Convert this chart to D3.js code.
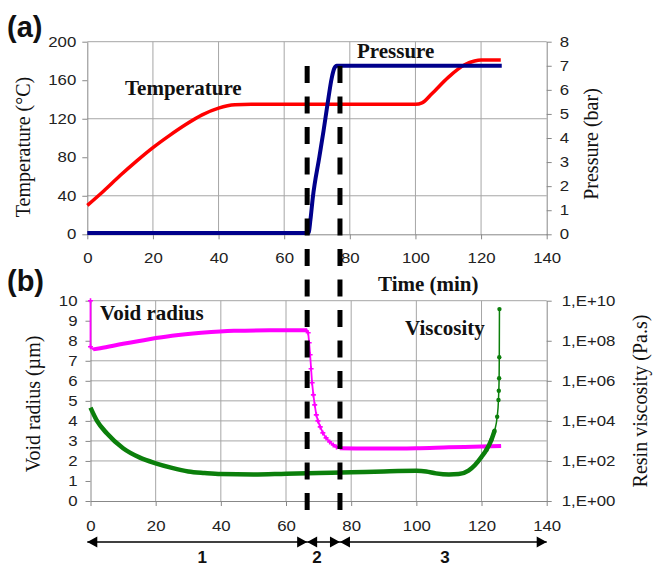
<!DOCTYPE html>
<html>
<head>
<meta charset="utf-8">
<title>cure cycle</title>
<style>
  body{margin:0;background:#fff;}
  svg{display:block;}
  .tick text{font-family:"Liberation Sans",Arial,sans-serif;font-size:14px;fill:#222;}
  .ttl{font-family:"Liberation Serif","Times New Roman",serif;font-size:20px;fill:#111;}
  .lbl{font-family:"Liberation Serif","Times New Roman",serif;font-size:21px;font-weight:bold;fill:#111;}
  .tag{font-family:"Liberation Sans",Arial,sans-serif;font-weight:bold;fill:#111;}
</style>
</head>
<body>
<script src="https://cdn.jsdelivr.net/npm/d3@7"></script>
<script>
// (a) temperature (°C) and pressure (bar) against time (min)
var temperature = [[0,30],[5,45],[10,61],[15,76],[20,90],[25,102.5],[30,114],[35,124],[40,131],[45,134.5],
  [50,135],[100,135],[102,136.5],[105,146],[110,163],[115,176],[118,180],[120,181],[126,181]];
var pressure = [[0,0.05],[67.4,0.05],[68,0.6],[68.7,1.5],[70.7,3.2],[72,4.3],[73.2,5.4],[74.5,6.5],
  [75.3,6.9],[76,7],[126.3,7]];

// (b) void radius (µm) and resin viscosity (Pa.s)
var voidRadius = [[0,10],[0,7.7],[0.8,7.57],[3,7.63],[10,7.85],[18,8.08],[25,8.25],[34,8.4],[44,8.5],
  [55,8.52],[66.5,8.52],[66.8,8.4],[67.1,7.9],[67.4,7.3],[67.7,6.6],[68,5.9],[68.4,5.3],[68.8,4.8],
  [69.3,4.3],[69.8,4],[70.5,3.7],[71.3,3.4],[72.3,3.15],[73.4,2.95],[74.5,2.8],[75.5,2.7],[76.5,2.63],
  [85,2.62],[95,2.62],[100,2.63],[110,2.68],[120,2.72],[126,2.75]];
var viscosity = [[0,4.6e4],[2,1e4],[5,2.4e3],[10,430],[15,150],[20,76],[25,45],[30,30],[35,25],[40,22],
  [50,21],[60,23],[70,25],[80,27],[90,30],[100,32],[103,30],[106,24],[110,21],[113,22],[116,33],
  [118,63],[120,160],[121.5,355],[123,1.1e3],[124,3.2e3],[124.8,1.6e4],[125.2,1.1e5],[125.3,3.2e5],
  [125.4,1.35e6],[125.45,1.5e7],[125.5,3.8e9]];

var timeTicks = [0,20,40,60,80,100,120,140];
var tempTicks = [0,40,80,120,160,200];
var tempGrid = [40,120,200];
var pressTicks = [0,1,2,3,4,5,6,7,8];
var radiusTicks = [0,1,2,3,4,5,6,7,8,9,10];
var radiusGrid = [2,3,4,5,6,7,10];
var viscTicks = [1e0,1e2,1e4,1e6,1e8,1e10];
var phaseBounds = [0,67,77,140];
var phaseNames = ['1','2','3'];
var phaseLabelAt = [35,70,109];

var svg = d3.select('body').append('svg').attr('width',654).attr('height',566);

// scales
var xTop = d3.scaleLinear().domain([0,140]).range([87.3,546.7]);
var yTemp = d3.scaleLinear().domain([0,200]).range([234.3,41.7]);
var yPress = d3.scaleLinear().domain([0,8]).range([234.3,41.7]);
var xBot = d3.scaleLinear().domain([0,140]).range([90.5,546.7]);
var yRad = d3.scaleLinear().domain([0,10]).range([501,300.7]);
var yVisc = d3.scaleLog().domain([1,1e10]).range([501,300.7]);

function styleAxis(g){
  g.select('.domain').attr('stroke','#888');
  g.selectAll('.tick line').attr('stroke','#888');
  // the original's digits are drawn wide
  g.selectAll('.tick text').each(function(){
    var t = d3.select(this), x = +t.attr('x') || 0;
    t.attr('x',0).attr('transform','translate('+x+',0) scale(1.2,1)');
  });
}

// grid
var grid = svg.append('g').attr('stroke','#a6a6a6').attr('stroke-width',1);
grid.selectAll('.gt').data(tempGrid).enter().append('line')
  .attr('x1',xTop(0)).attr('x2',xTop(140)).attr('y1',d=>yTemp(d)).attr('y2',d=>yTemp(d));
grid.selectAll('.vt').data(timeTicks.slice(1,-1)).enter().append('line')
  .attr('x1',d=>xTop(d)).attr('x2',d=>xTop(d)).attr('y1',yTemp(0)).attr('y2',yTemp(200));
grid.selectAll('.gb').data(radiusGrid).enter().append('line')
  .attr('x1',xBot(0)).attr('x2',xBot(140)).attr('y1',d=>yRad(d)).attr('y2',d=>yRad(d));
grid.selectAll('.vb').data(timeTicks.slice(1,-1)).enter().append('line')
  .attr('x1',d=>xBot(d)).attr('x2',d=>xBot(d)).attr('y1',yRad(0)).attr('y2',yRad(10));

// axes (a)
svg.append('g').attr('transform','translate(0,'+yTemp(0)+')')
  .call(d3.axisBottom(xTop).tickValues(timeTicks).tickSize(5).tickSizeOuter(0).tickPadding(14)).call(styleAxis);
svg.append('g').attr('transform','translate('+xTop(0)+',0)')
  .call(d3.axisLeft(yTemp).tickValues(tempTicks).tickSize(5).tickSizeOuter(0).tickPadding(6)).call(styleAxis);
svg.append('g').attr('transform','translate('+xTop(140)+',0)')
  .call(d3.axisRight(yPress).tickValues(pressTicks).tickSize(5).tickSizeOuter(0).tickPadding(8)).call(styleAxis);

// axes (b)
svg.append('g').attr('transform','translate(0,'+yRad(0)+')')
  .call(d3.axisBottom(xBot).tickValues(timeTicks).tickSize(5).tickSizeOuter(0).tickPadding(15)).call(styleAxis);
svg.append('g').attr('transform','translate('+xBot(0)+',0)')
  .call(d3.axisLeft(yRad).tickValues(radiusTicks).tickSize(5).tickSizeOuter(0).tickPadding(8)).call(styleAxis);
svg.append('g').attr('transform','translate('+xBot(140)+',0)')
  .call(d3.axisRight(yVisc).tickValues(viscTicks).tickSize(5).tickSizeOuter(0).tickPadding(10)
    .tickFormat(d=>'1,E+'+d3.format('02d')(Math.round(Math.log10(d))))).call(styleAxis);

// curves (a)
var lineT = d3.line().x(d=>xTop(d[0])).y(d=>yTemp(d[1])).curve(d3.curveMonotoneX);
var lineP = d3.line().x(d=>xTop(d[0])).y(d=>yPress(d[1])).curve(d3.curveMonotoneX);
svg.append('path').datum(temperature).attr('d',lineT).attr('fill','none')
  .attr('stroke','#ff0000').attr('stroke-width',3.5);
svg.append('path').datum(pressure).attr('d',lineP).attr('fill','none')
  .attr('stroke','#00008b').attr('stroke-width',4);

// curves (b)
var lineR = d3.line().x(d=>xBot(d[0])).y(d=>yRad(d[1]));
var lineV = d3.line().x(d=>xBot(d[0])).y(d=>yVisc(d[1])).curve(d3.curveMonotoneX);
svg.append('path').datum(voidRadius).attr('d',lineR).attr('fill','none')
  .attr('stroke','#ff00ff').attr('stroke-width',1.8);
svg.append('path').datum(voidRadius.filter(d=>d[0]>0 && d[0]<=66.5)).attr('d',lineR.curve(d3.curveMonotoneX))
  .attr('fill','none').attr('stroke','#ff00ff').attr('stroke-width',4);
svg.append('path').datum(voidRadius.filter(d=>d[0]>=76.5)).attr('d',lineR)
  .attr('fill','none').attr('stroke','#ff00ff').attr('stroke-width',4);
svg.selectAll('.rm').data(voidRadius.filter(d=>(d[0]>66.5 && d[0]<76.5) || d[0]===0)).enter().append('path')
  .attr('transform',d=>'translate('+xBot(d[0])+','+yRad(d[1])+')')
  .attr('d','M-2.5,0H2.5M0,-2.5V2.5').attr('stroke','#ff00ff').attr('stroke-width',1.6);

svg.append('path').datum(viscosity.filter(d=>d[0]<=124)).attr('d',lineV).attr('fill','none')
  .attr('stroke','#0b7f0b').attr('stroke-width',4.5);
svg.append('path').datum(viscosity.filter(d=>d[0]>=121.5)).attr('d',lineV).attr('fill','none')
  .attr('stroke','#0b7f0b').attr('stroke-width',1.5);
svg.selectAll('.vm').data(viscosity.filter(d=>d[0]>=121.5)).enter().append('circle')
  .attr('cx',d=>xBot(d[0])).attr('cy',d=>yVisc(d[1])).attr('r',2.2).attr('fill','#0b7f0b');

// phase boundaries
svg.selectAll('.dash').data(phaseBounds.slice(1,3)).enter().append('line')
  .attr('x1',d=>xTop(d)).attr('x2',d=>xTop(d)).attr('y1',66).attr('y2',518)
  .attr('stroke','#000').attr('stroke-width',5).attr('stroke-dasharray','17,13.5');

// phase arrows
var ay = 542;
var phases = d3.range(3).map(i=>({a:phaseBounds[i],b:phaseBounds[i+1],name:phaseNames[i],at:phaseLabelAt[i]}));
var pg = svg.selectAll('.ph').data(phases).enter().append('g');
pg.append('line').attr('x1',d=>xTop(d.a)).attr('x2',d=>xTop(d.b)).attr('y1',ay).attr('y2',ay)
  .attr('stroke','#000').attr('stroke-width',1.5);
pg.append('path').attr('fill','#000').attr('d',function(d){
  var x0 = xTop(d.a), x1 = xTop(d.b);
  return 'M'+x0+','+ay+'L'+(x0+10)+','+(ay-5.5)+'L'+(x0+10)+','+(ay+5.5)+'Z'
    +'M'+x1+','+ay+'L'+(x1-10)+','+(ay-5.5)+'L'+(x1-10)+','+(ay+5.5)+'Z';
});
pg.append('text').attr('class','tag').attr('font-size',17).attr('text-anchor','middle')
  .attr('x',d=>xTop(d.at)).attr('y',563).text(d=>d.name);

// titles
svg.append('text').attr('class','ttl').attr('text-anchor','middle')
  .attr('transform','translate(30,147) rotate(-90)').text('Temperature (°C)');
svg.append('text').attr('class','ttl').attr('text-anchor','middle')
  .attr('transform','translate(598,144) rotate(-90)').text('Pressure (bar)');
svg.append('text').attr('class','ttl').attr('font-size',21).attr('text-anchor','middle')
  .attr('transform','translate(40,404) rotate(-90)').text('Void radius (µm)');
svg.append('text').attr('class','ttl').attr('font-size',21).attr('text-anchor','middle')
  .attr('transform','translate(647,401) rotate(-90)').text('Resin viscosity (Pa.s)');

svg.append('text').attr('class','lbl').attr('x',125).attr('y',95).text('Temperature');
svg.append('text').attr('class','lbl').attr('x',357).attr('y',58).text('Pressure');
svg.append('text').attr('class','lbl').attr('x',100).attr('y',320).text('Void radius');
svg.append('text').attr('class','lbl').attr('x',405).attr('y',335).text('Viscosity');
svg.append('text').attr('class','lbl').attr('x',378).attr('y',291).text('Time (min)');

svg.append('text').attr('class','tag').attr('font-size',29).attr('x',7).attr('y',37).text('(a)');
svg.append('text').attr('class','tag').attr('font-size',29).attr('x',7).attr('y',291).text('(b)');
</script>
</body>
</html>
